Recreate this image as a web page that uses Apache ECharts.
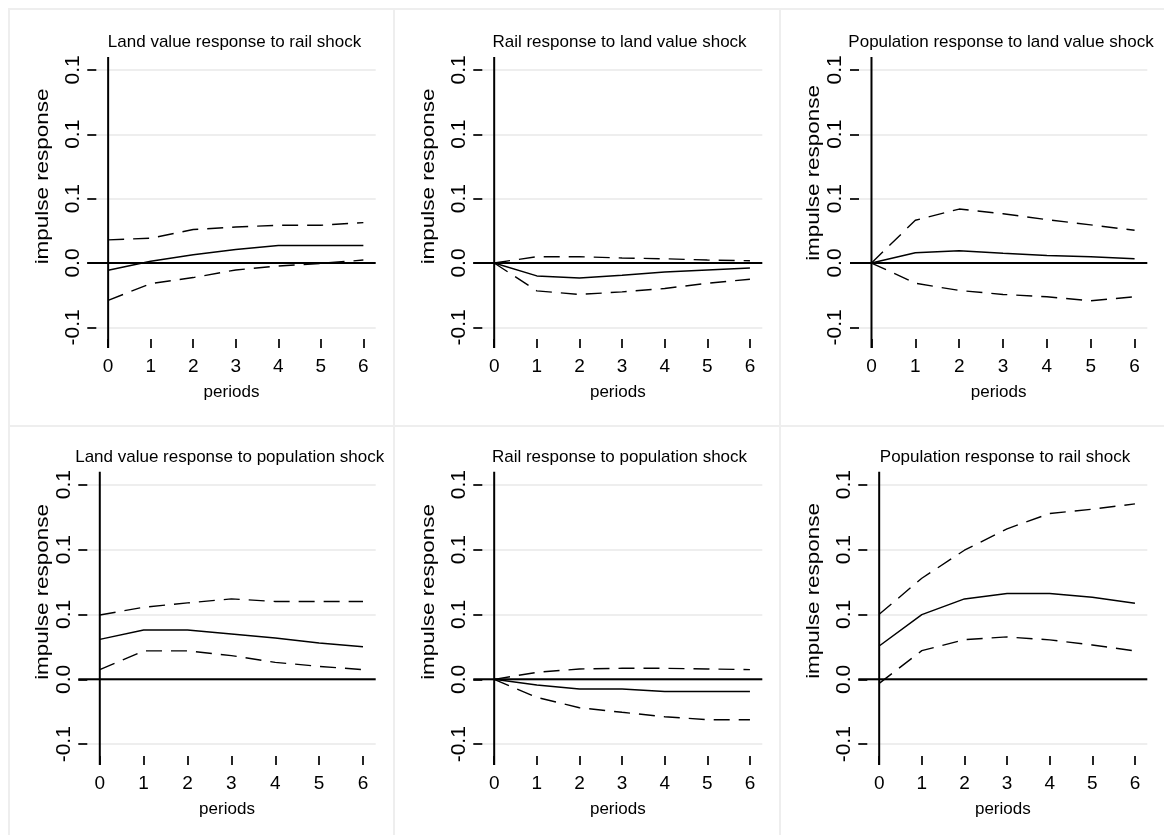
<!DOCTYPE html>
<html>
<head>
<meta charset="utf-8">
<script src="https://cdn.jsdelivr.net/npm/echarts@6/dist/echarts.min.js"></script>
<style>
  html, body { margin: 0; padding: 0; background: #ffffff; }
  #chart { width: 1164px; height: 835px; }
</style>
</head>
<body>
<div id="chart"></div>
<script>
// ---------- data ----------
const periods = [0, 1, 2, 3, 4, 5, 6];
const xTickLabels = ['0', '1', '2', '3', '4', '5', '6'];
const yTickValues = [-0.05, 0, 0.05, 0.10, 0.15];
const yTickLabels = ['-0.1', '0.0', '0.1', '0.1', '0.1'];
const panelTitles = [
  'Land value response to rail shock',
  'Rail response to land value shock',
  'Population response to land value shock',
  'Land value response to population shock',
  'Rail response to population shock',
  'Population response to rail shock'
];
const xAxisTitle = 'periods';
const yAxisTitle = 'impulse response';

// Land value response to rail shock
const landRailIrf   = [-0.0057, 0.0013, 0.0064, 0.0105, 0.0136, 0.0136, 0.0136];
const landRailUpper = [0.0180, 0.0193, 0.0260, 0.0280, 0.0293, 0.0293, 0.0314];
const landRailLower = [-0.0290, -0.0160, -0.0113, -0.0054, -0.0023, -0.0003, 0.0023];
// Rail response to land value shock
const railLandIrf   = [0, -0.0100, -0.0116, -0.0095, -0.0070, -0.0054, -0.0039];
const railLandUpper = [0, 0.0049, 0.0049, 0.0039, 0.0033, 0.0023, 0.0018];
const railLandLower = [0, -0.0216, -0.0244, -0.0224, -0.0198, -0.0157, -0.0126];
// Population response to land value shock
const popLandIrf   = [0, 0.0080, 0.0095, 0.0075, 0.0059, 0.0049, 0.0033];
const popLandUpper = [0, 0.0332, 0.0419, 0.0383, 0.0337, 0.0296, 0.0254];
const popLandLower = [0, -0.0157, -0.0213, -0.0244, -0.0262, -0.0293, -0.0262];
// Land value response to population shock
const landPopIrf   = [0.0308, 0.0380, 0.0380, 0.0350, 0.0319, 0.0280, 0.0252];
const landPopUpper = [0.0496, 0.0555, 0.0589, 0.0620, 0.0600, 0.0600, 0.0600];
const landPopLower = [0.0075, 0.0219, 0.0219, 0.0183, 0.0131, 0.0100, 0.0075];
// Rail response to population shock
const railPopIrf   = [0, -0.0044, -0.0075, -0.0075, -0.0093, -0.0093, -0.0093];
const railPopUpper = [0, 0.0054, 0.0080, 0.0085, 0.0085, 0.0080, 0.0075];
const railPopLower = [0, -0.0139, -0.0219, -0.0254, -0.0288, -0.0311, -0.0311];
// Population response to rail shock
const popRailIrf   = [0.0257, 0.0499, 0.0620, 0.0661, 0.0661, 0.0632, 0.0586];
const popRailUpper = [0.0501, 0.0779, 0.0995, 0.1160, 0.1278, 0.1311, 0.1352];
const popRailLower = [-0.0031, 0.0221, 0.0306, 0.0327, 0.0304, 0.0265, 0.0219];

const panelSeries = [
  [landRailIrf, landRailUpper, landRailLower],
  [railLandIrf, railLandUpper, railLandLower],
  [popLandIrf, popLandUpper, popLandLower],
  [landPopIrf, landPopUpper, landPopLower],
  [railPopIrf, railPopUpper, railPopLower],
  [popRailIrf, popRailUpper, popRailLower]
];

// ---------- layout / style ----------
const X_MIN = -0.49, X_MAX = 6.29;
const Y_MIN = -0.066, Y_MAX = 0.16;
const FONT = '"Liberation Sans", Arial, Helvetica, sans-serif';
const panelBoxes = [
  [9, 9, 385, 417], [394, 9, 386, 417], [780, 9, 400, 417],
  [9, 426, 385, 420], [394, 426, 386, 420], [780, 426, 400, 420]
];
const gridBoxes = [
  { left: 87.3, top: 57, width: 288.4, height: 291 },
  { left: 473.3, top: 57, width: 289, height: 291 },
  { left: 850, top: 57, width: 297.3, height: 291 },
  { left: 78.3, top: 471.7, width: 297.4, height: 293.3 },
  { left: 473.3, top: 471.7, width: 289, height: 293.3 },
  { left: 858.3, top: 471.7, width: 289, height: 293.3 }
];
const titleCenters = [234.5, 619.5, 1001, 229.7, 619.5, 1005];
const titleTops = [34, 34, 34, 449, 449, 449];
const yTitlePos = [[42.7, 176.5], [428.3, 176.5], [813.3, 173], [42.5, 592], [428.3, 592], [813.3, 591]];

const fmtY = v => {
  const i = yTickValues.findIndex(t => Math.abs(t - v) < 1e-9);
  return i >= 0 ? yTickLabels[i] : '';
};
const fmtX = v => {
  const i = periods.findIndex(t => Math.abs(t - v) < 1e-9);
  return i >= 0 ? xTickLabels[i] : '';
};

const grids = [], xAxes = [], yAxes = [], series = [], titles = [], graphics = [];

panelBoxes.forEach(b => {
  graphics.push({
    type: 'rect', silent: true, z: -10,
    shape: { x: b[0], y: b[1], width: b[2], height: b[3] },
    style: { fill: 'none', stroke: '#eeeeee', lineWidth: 2 }
  });
});

panelTitles.forEach((t, i) => {
  grids.push(Object.assign({ containLabel: false }, gridBoxes[i]));
  titles.push({
    text: t, left: titleCenters[i], top: titleTops[i], textAlign: 'center', padding: 0,
    textStyle: { fontSize: 17, fontWeight: 'normal', color: '#000', fontFamily: FONT }
  });
  graphics.push({
    type: 'text', x: yTitlePos[i][0], y: yTitlePos[i][1], rotation: Math.PI / 2,
    scaleX: 1.18, scaleY: 1,
    style: { text: yAxisTitle, fontSize: 19, fontFamily: FONT, fill: '#000',
             align: 'center', verticalAlign: 'middle' }
  });
  xAxes.push({
    type: 'value', gridIndex: i, min: X_MIN, max: X_MAX,
    axisLine: { show: false, onZero: false },
    axisTick: { show: true, inside: true, length: 9, customValues: periods,
                lineStyle: { color: '#000', width: 1.7 } },
    axisLabel: { show: true, customValues: periods, formatter: fmtX, margin: 9,
                 fontSize: 19, color: '#000', fontFamily: FONT },
    splitLine: { show: false },
    name: xAxisTitle, nameLocation: 'middle', nameGap: 36,
    nameTextStyle: { fontSize: 17, color: '#000', fontFamily: FONT, verticalAlign: 'top' }
  });
  yAxes.push({
    type: 'value', gridIndex: i, min: Y_MIN, max: Y_MAX,
    axisLine: { show: false, onZero: false },
    axisTick: { show: true, inside: true, length: 9, customValues: yTickValues,
                lineStyle: { color: '#000', width: 1.7 } },
    axisLabel: { show: true, customValues: yTickValues, formatter: fmtY, rotate: 90, margin: 4,
                 fontSize: 21, color: '#000', fontFamily: FONT },
    splitLine: { show: true, lineStyle: { color: '#e8e8e8', width: 1.5 } }
  });
  // reference lines at zero
  series.push({
    type: 'line', xAxisIndex: i, yAxisIndex: i, silent: true, showSymbol: false, symbol: 'none',
    data: [[X_MIN, 0], [X_MAX, 0]], lineStyle: { color: '#000', width: 2 }, z: 3
  });
  series.push({
    type: 'line', xAxisIndex: i, yAxisIndex: i, silent: true, showSymbol: false, symbol: 'none',
    data: [[0, Y_MIN], [0, Y_MAX]], lineStyle: { color: '#000', width: 2 }, z: 3
  });
  const [irf, up, lo] = panelSeries[i];
  series.push({
    type: 'line', xAxisIndex: i, yAxisIndex: i, symbol: 'none',
    data: periods.map((p, k) => [p, irf[k]]), lineStyle: { color: '#000', width: 1.5 }, z: 4
  });
  [up, lo].forEach(arr => series.push({
    type: 'line', xAxisIndex: i, yAxisIndex: i, symbol: 'none',
    data: periods.map((p, k) => [p, arr[k]]),
    lineStyle: { color: '#000', width: 1.4, type: [16, 9] }, z: 4
  }));
});

const chart = echarts.init(document.getElementById('chart'), null, { renderer: 'canvas' });
chart.setOption({
  backgroundColor: '#ffffff',
  animation: false,
  title: titles,
  grid: grids,
  xAxis: xAxes,
  yAxis: yAxes,
  series: series,
  graphic: graphics
});
</script>
</body>
</html>
